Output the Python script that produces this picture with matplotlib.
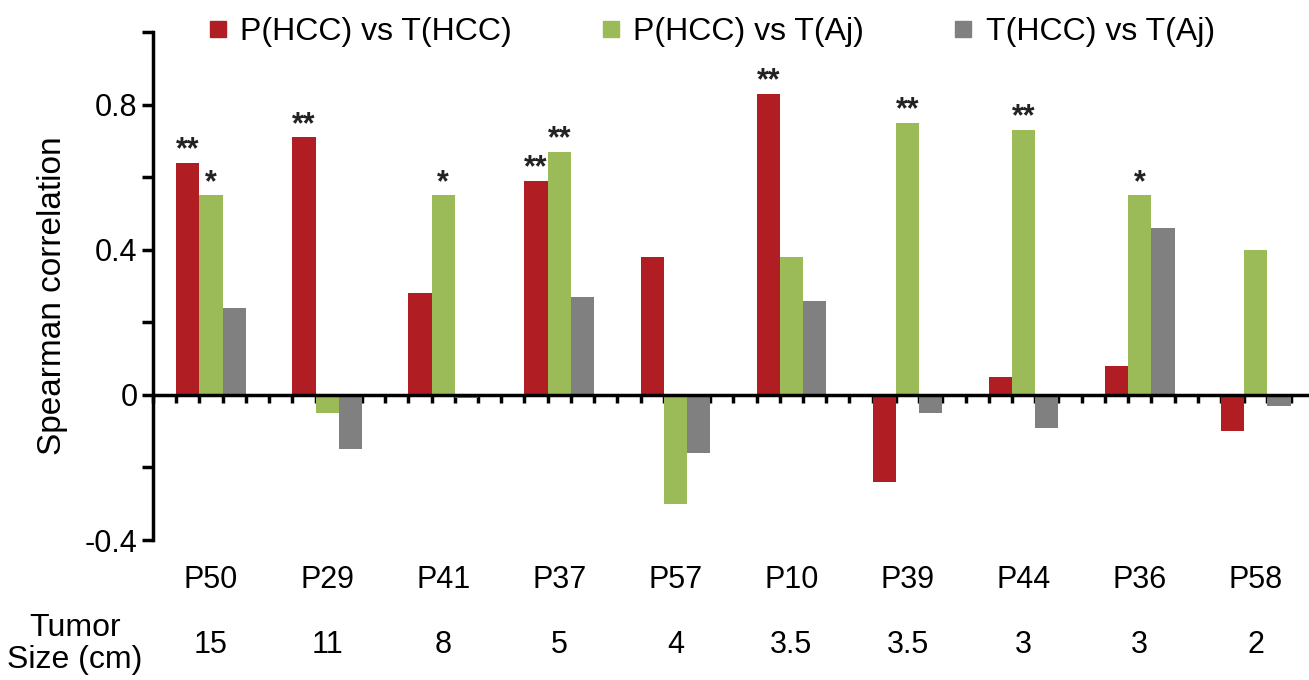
import numpy as np
import matplotlib
matplotlib.use("Agg")
import matplotlib.pyplot as plt
from matplotlib.lines import Line2D

plt.rcParams['font.family'] = ['Liberation Sans', 'DejaVu Sans']

# ------------------------------
# Data
# ------------------------------
patients = ["P50", "P29", "P41", "P37", "P57", "P10", "P39", "P44", "P36", "P58"]
tumor_size = ["15", "11", "8", "5", "4", "3.5", "3.5", "3", "3", "2"]

series_names = ["P(HCC) vs T(HCC)", "P(HCC) vs T(Aj)", "T(HCC) vs T(Aj)"]
p_hcc_t_hcc = [0.64, 0.71, 0.28, 0.59, 0.38, 0.83, -0.24, 0.05, 0.08, -0.10]
p_hcc_t_aj = [0.55, -0.05, 0.55, 0.67, -0.30, 0.38, 0.75, 0.73, 0.55, 0.40]
t_hcc_t_aj = [0.24, -0.15, -0.01, 0.27, -0.16, 0.26, -0.05, -0.09, 0.46, -0.03]

# significance marks per series
stars_red = ["**", "**", "", "**", "", "**", "", "", "", ""]
stars_green = ["*", "", "*", "**", "", "", "**", "**", "*", ""]
stars_gray = [""] * 10

colors = ["#B01E24", "#9BBB59", "#808080"]

# ------------------------------
# Figure
# ------------------------------
fig = plt.figure(figsize=(13.09, 6.8), dpi=100)
ax = fig.add_axes([153/1309, 1 - 540/680, (1308-153)/1309, (540-32)/680])

x = np.arange(len(patients))
w = 0.2
all_series = [p_hcc_t_hcc, p_hcc_t_aj, t_hcc_t_aj]
all_stars = [stars_red, stars_green, stars_gray]

for k, (vals, st) in enumerate(zip(all_series, all_stars)):
    xpos = x + (k - 1) * w
    ax.bar(xpos, vals, width=w, color=colors[k], zorder=2)
    for xi, v, s in zip(xpos, vals, st):
        if s:
            ax.annotate(s, (xi, v), xytext=(0, -2), textcoords="offset points",
                        ha="center", va="bottom", fontsize=22,
                        fontweight="bold", color="#222222")

# axis limits / spines
ax.set_xlim(-0.5, 9.45)
ax.set_ylim(-0.4, 1.0)
ax.spines['top'].set_visible(False)
ax.spines['right'].set_visible(False)
ax.spines['left'].set_bounds(-0.4, 1.0)
ax.spines['left'].set_linewidth(2.5)
ax.spines['bottom'].set_position(('data', 0))
ax.spines['bottom'].set_linewidth(2.5)
ax.spines['bottom'].set_zorder(3)

# y ticks
ax.set_yticks([-0.4, 0, 0.4, 0.8])
ax.set_yticklabels(["-0.4", "0", "0.4", "0.8"], fontsize=22)
ax.set_yticks([-0.2, 0.2, 0.6, 1.0], minor=True)
ax.tick_params(axis='y', which='both', direction='out', length=8, width=2.5, pad=3)

# x ticks at every bar slot boundary, no labels
ax.set_xticks([])
ax.set_xticks(np.arange(-0.5, 9.4, 0.2), minor=True)
ax.tick_params(axis='x', which='minor', direction='out', length=6, width=2.5,
               labelbottom=False)

# category labels and tumor sizes below the axes
trans = ax.get_xaxis_transform()
for xi, p, t in zip(x, patients, tumor_size):
    ax.text(xi, -0.079, p, transform=trans, ha="center", va="center", fontsize=22)
    ax.text(xi, -0.207, t, transform=trans, ha="center", va="center", fontsize=22)
ax.text(-0.5 - 78/116.3, -0.205, "Tumor\nSize (cm)", transform=trans,
        ha="center", va="center", fontsize=23, linespacing=1.1)

ax.set_ylabel("Spearman correlation", fontsize=24)
ax.yaxis.set_label_coords(-0.074, 0.48)

# legend
handles = [Line2D([], [], marker='s', linestyle='', markersize=12, color=c)
           for c in colors]
fig.legend(handles, series_names, loc="center left",
           bbox_to_anchor=(205/1309, 1 - 32/680), ncol=3, frameon=False,
           fontsize=23, handletextpad=0.3, columnspacing=2.7,
           handlelength=0.8, borderpad=0, borderaxespad=0)

fig.savefig("out.png", dpi=100)
